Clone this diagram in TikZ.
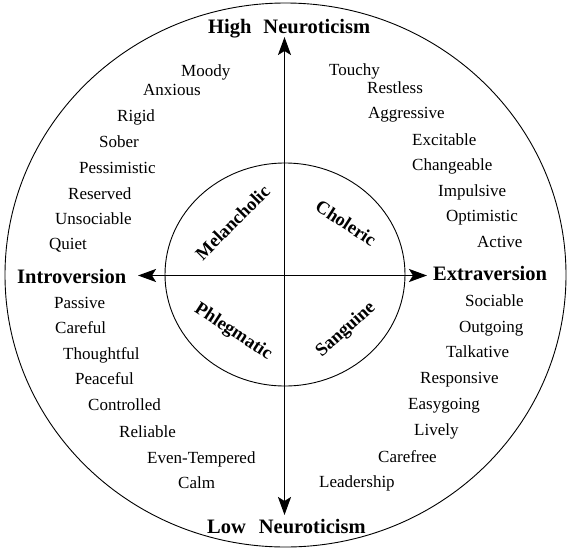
\documentclass[tikz,border=0pt]{standalone}
\usepackage{fontspec}
\setmainfont{Liberation Serif}
\usetikzlibrary{arrows.meta}
\tikzset{
  word/.style={inner sep=0pt, anchor=base west, font=\fontsize{17}{20}\selectfont},
  pole/.style={inner sep=0pt, anchor=base west, font=\fontsize{20.5}{24}\bfseries\selectfont},
  temper/.style={inner sep=0pt, font=\fontsize{18.5}{22}\bfseries\selectfont},
  ring/.style={draw=black, line width=0.9pt},
  axis/.style={draw=black, line width=1.9pt, {Stealth[length=18pt,width=13pt,inset=4pt]}-{Stealth[length=18pt,width=13pt,inset=4pt]}}
}
\begin{document}
\begin{tikzpicture}[x=1pt,y=-1pt]
\useasboundingbox (0,0) rectangle (570,552);
\fill[white] (0,0) rectangle (570,552);
% rings
\draw[ring] (285.5,275) ellipse [x radius=280.5, y radius=272];
\draw[ring] (285,274.5) ellipse [x radius=120, y radius=111.5];
% axis end points
\coordinate (ntop) at (284.5,37);
\coordinate (nbot) at (284.5,515);
\coordinate (eleft) at (138,275.5);
\coordinate (eright) at (427,275.5);
\draw[axis] (nbot) -- (ntop);
\draw[axis] (eleft) -- (eright);
% poles
\node[pole] (high) at (208,33) {High\hspace{12pt}Neuroticism};
\node[pole] (low) at (207,533) {Low\hspace{13pt}Neuroticism};
\node[pole] (intro) at (17,283) {Introversion};
\node[pole] (extra) at (433,280) {Extraversion};
% temperaments
\node[temper, rotate=45] (mel) at (232.5,222.5) {Melancholic};
\node[temper, rotate=-33] (chol) at (346,223) {Choleric};
\node[temper, rotate=-33] (phleg) at (233,332) {Phlegmatic};
\node[temper, rotate=42] (sang) at (346,330) {Sanguine};
% upper left
\node[word] (moody) at (181,76) {Moody};
\node[word] (anxious) at (143,95) {Anxious};
\node[word] (rigid) at (117,121) {Rigid};
\node[word] (sober) at (99,147) {Sober};
\node[word] (pess) at (79,173) {Pessimistic};
\node[word] (reserved) at (68,199) {Reserved};
\node[word] (unsoc) at (55,224) {Unsociable};
\node[word] (quiet) at (49,249) {Quiet};
% lower left
\node[word] (passive) at (54,308) {Passive};
\node[word] (careful) at (55,333) {Careful};
\node[word] (thought) at (63,359) {Thoughtful};
\node[word] (peace) at (75,384) {Peaceful};
\node[word] (control) at (88,410) {Controlled};
\node[word] (reliable) at (119,437) {Reliable};
\node[word] (even) at (147,463) {Even-Tempered};
\node[word] (calm) at (178,488) {Calm};
% upper right
\node[word] (touchy) at (329,75) {Touchy};
\node[word] (restless) at (367,93) {Restless};
\node[word] (aggr) at (368,118) {Aggressive};
\node[word] (excit) at (412,145) {Excitable};
\node[word] (change) at (412,170) {Changeable};
\node[word] (impul) at (438,196) {Impulsive};
\node[word] (optim) at (446,221) {Optimistic};
\node[word] (active) at (477,247) {Active};
% lower right
\node[word] (sociable) at (465,306) {Sociable};
\node[word] (outgoing) at (459,332) {Outgoing};
\node[word] (talk) at (446,357) {Talkative};
\node[word] (resp) at (420,383) {Responsive};
\node[word] (easy) at (408,409) {Easygoing};
\node[word] (lively) at (414,435) {Lively};
\node[word] (carefree) at (378,462) {Carefree};
\node[word] (leader) at (319,487) {Leadership};
\end{tikzpicture}
\end{document}
